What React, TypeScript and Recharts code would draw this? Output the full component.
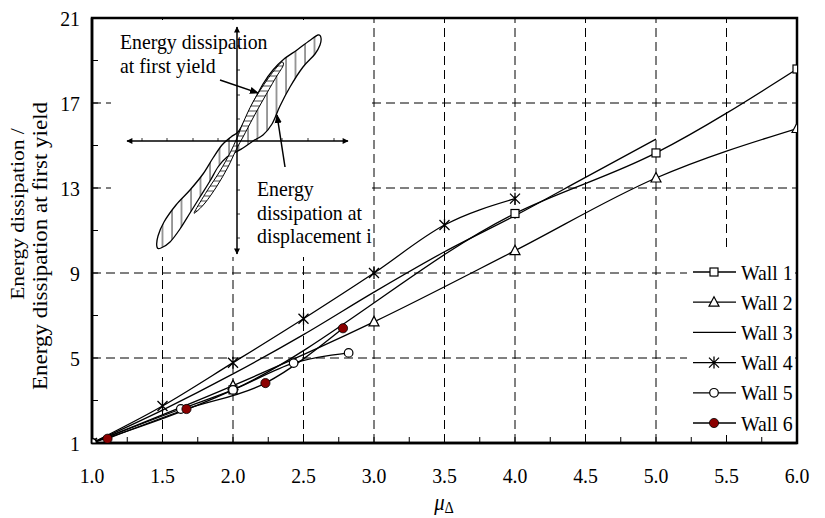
import React from 'react';
import { LineChart, Line, XAxis, YAxis, ReferenceLine, ReferenceArea, Legend } from 'recharts';

// ---------------- data ----------------
const wall1X = [1, 2, 4, 5, 6];
const wall1Y = [1, 3.5, 11.8, 14.65, 18.6];
const wall2X = [1, 2, 3, 4, 5, 6];
const wall2Y = [1, 3.7, 6.7, 10.05, 13.47, 15.8];
const wall3X = [1, 1.5, 2, 2.5, 3, 3.5, 4, 4.5, 5];
const wall3Y = [1, 2.55, 4.25, 6.1, 8.1, 10.0, 11.7, 13.5, 15.3];
const wall4X = [1, 1.5, 2, 2.5, 3, 3.5, 4];
const wall4Y = [1, 2.74, 4.78, 6.85, 9.0, 11.26, 12.5];
const wall5X = [1, 1.63, 2, 2.43, 2.82];
const wall5Y = [1, 2.6, 3.5, 4.76, 5.24];
const wall6X = [1.11, 1.67, 2.23, 2.78];
const wall6Y = [1.2, 2.6, 3.82, 6.4];

const seriesNames = ['Wall 1', 'Wall 2', 'Wall 3', 'Wall 4', 'Wall 5', 'Wall 6'];

const xTicks = [1, 1.25, 1.5, 1.75, 2, 2.25, 2.5, 2.75, 3, 3.25, 3.5, 3.75, 4, 4.25, 4.5, 4.75, 5, 5.25, 5.5, 5.75, 6];
const xLabels = [1, 1.5, 2, 2.5, 3, 3.5, 4, 4.5, 5, 5.5, 6];
const yTicks = [1, 3, 5, 7, 9, 11, 13, 15, 17, 19, 21];
const yLabels = [1, 5, 9, 13, 17, 21];
const gridX = [1.5, 2, 2.5, 3, 3.5, 4, 4.5, 5, 5.5];
const gridY = [5, 9, 13, 17];

const yTitle1 = 'Energy dissipation /';
const yTitle2 = 'Energy dissipation at first yield';
const insetText1 = ['Energy dissipation', 'at first yield'];
const insetText2 = ['Energy', 'dissipation at', 'displacement i'];

const zip = (xs: number[], ys: number[]) => xs.map((x, i) => ({ x, y: ys[i] }));
const wall1 = zip(wall1X, wall1Y);
const wall2 = zip(wall2X, wall2Y);
const wall3 = zip(wall3X, wall3Y);
const wall4 = zip(wall4X, wall4Y);
const wall5 = zip(wall5X, wall5Y);
const wall6 = zip(wall6X, wall6Y);

// ---------------- styles ----------------
const FONT = 'Liberation Serif, DejaVu Serif, serif';
const FS = 22;
const SX = 0.9;
const RED = '#8B0000';
const tStyle: React.CSSProperties = { fontFamily: FONT, fontSize: FS };

// horizontally condensed text (reference glyphs are tall and narrow)
const T = ({ x, y, anchor, children }: { x: number; y: number; anchor?: string; children: any }) => (
  <text transform={`translate(${x},${y}) scale(${SX},1)`} textAnchor={anchor || 'start'} style={tStyle} fill="#000">
    {children}
  </text>
);

// ---------------- markers ----------------
const squareShape = (cx: number, cy: number, k: any) => (
  <rect key={k} x={cx - 4} y={cy - 4} width={8} height={8} fill="#fff" stroke="#000" strokeWidth={1.2} />
);
const triShape = (cx: number, cy: number, k: any) => (
  <path key={k} d={`M${cx},${cy - 5.5} L${cx + 5},${cy + 4} L${cx - 5},${cy + 4} Z`} fill="#fff" stroke="#000" strokeWidth={1.2} />
);
const starShape = (cx: number, cy: number, k: any) => (
  <path key={k} d={`M${cx - 5},${cy - 5} L${cx + 5},${cy + 5} M${cx - 5},${cy + 5} L${cx + 5},${cy - 5} M${cx},${cy - 6} L${cx},${cy + 6}`} stroke="#000" strokeWidth={1.3} fill="none" />
);
const openCircle = (cx: number, cy: number, k: any) => (
  <circle key={k} cx={cx} cy={cy} r={4.3} fill="#fff" stroke="#000" strokeWidth={1.2} />
);
const redCircle = (cx: number, cy: number, k: any) => (
  <circle key={k} cx={cx} cy={cy} r={4.6} fill={RED} stroke="#000" strokeWidth={0.8} />
);

const dotOf = (shape: (cx: number, cy: number, k: any) => any, name: string) => (p: any) => {
  if (p.cx == null || p.cy == null) return <g key={`${name}-${p.index}`} />;
  return shape(p.cx, p.cy, `${name}-${p.index}`);
};

const legendShapes = [squareShape, triShape, null, starShape, openCircle, redCircle];

// ---------------- axes ticks ----------------
const XTick = (props: any) => {
  const { x, y, payload } = props;
  const v = payload.value;
  const show = xLabels.includes(v);
  return (
    <g>
      <line x1={x} y1={y} x2={x} y2={y - 6} stroke="#000" strokeWidth={1} />
      {show && (
        <T x={x} y={y + 40} anchor="middle">
          {v.toFixed(1)}
        </T>
      )}
    </g>
  );
};

const YTick = (props: any) => {
  const { x, y, payload } = props;
  const v = payload.value;
  const show = yLabels.includes(v);
  return (
    <g>
      <line x1={x} y1={y} x2={x + 6} y2={y} stroke="#000" strokeWidth={1} />
      {show && (
        <T x={x - 12} y={y + 7.5} anchor="end">
          {v}
        </T>
      )}
    </g>
  );
};

// ---------------- legend ----------------
const renderLegend = () => (
  <svg width={108} height={183} style={{ display: 'block' }}>
    <rect x={0} y={0} width={108} height={183} fill="#fff" />
    {seriesNames.map((n, i) => {
      const cy = 20 + i * 30.2;
      const sh = legendShapes[i];
      return (
        <g key={n}>
          <line x1={6} y1={cy} x2={49} y2={cy} stroke="#000" strokeWidth={1.3} />
          {sh && sh(27, cy, `lg-${i}`)}
          <T x={54} y={cy + 7.5}>
            {n}
          </T>
        </g>
      );
    })}
  </svg>
);

// ---------------- inset illustration ----------------
function smoothPath(pts: number[][], closed: boolean) {
  const n = pts.length;
  const get = (i: number) => (closed ? pts[(i + n) % n] : pts[Math.max(0, Math.min(n - 1, i))]);
  let d = `M${pts[0][0]},${pts[0][1]}`;
  const segs = closed ? n : n - 1;
  for (let i = 0; i < segs; i++) {
    const p0 = get(i - 1), p1 = get(i), p2 = get(i + 1), p3 = get(i + 2);
    const c1x = p1[0] + (p2[0] - p0[0]) / 6, c1y = p1[1] + (p2[1] - p0[1]) / 6;
    const c2x = p2[0] - (p3[0] - p1[0]) / 6, c2y = p2[1] - (p3[1] - p1[1]) / 6;
    d += ` C${c1x.toFixed(1)},${c1y.toFixed(1)} ${c2x.toFixed(1)},${c2y.toFixed(1)} ${p2[0]},${p2[1]}`;
  }
  if (closed) d += ' Z';
  return d;
}

const outerLoop = [
  [157, 247], [158, 236], [164, 222], [176, 205], [190, 190], [203, 174], [213, 158], [222, 145], [231, 137], [238, 132],
  [244, 122], [253, 103], [263, 84], [273, 70], [284, 59], [297, 50], [309, 41], [318, 35],
  [321, 38], [320, 45], [315, 54], [303, 67], [290, 87], [280, 106], [272, 124], [263, 135], [253, 141], [243, 148],
  [236, 152], [227, 157], [218, 167], [210, 181], [200, 197], [190, 213], [180, 229], [170, 242], [161, 248],
];
const innerLoop = [
  [195, 211], [207, 191], [220, 171], [230, 153], [237, 138], [243, 123], [253, 102], [267, 80], [277, 67], [282, 62],
  [283, 66], [275, 79], [263, 100], [253, 118], [243, 137], [237, 148], [228, 167], [217, 186], [205, 203], [196, 212],
];
const hTicks = [142, 167, 193, 218, 257, 282, 308, 334];
const vTicks = [46, 70, 95, 119, 165, 190, 214, 238];

const Inset = () => (
  <svg width={825} height={518} style={{ position: 'absolute', left: 0, top: 0, pointerEvents: 'none' }}>
    <defs>
      <pattern id="vhatch" width={9.5} height={10} patternUnits="userSpaceOnUse">
        <line x1={1} y1={0} x2={1} y2={10} stroke="#000" strokeWidth={0.8} />
      </pattern>
      <pattern id="hhatch" width={10} height={5} patternUnits="userSpaceOnUse">
        <rect width={10} height={5} fill="#fff" />
        <line x1={0} y1={1} x2={10} y2={1} stroke="#000" strokeWidth={0.7} />
      </pattern>
      <marker id="ah" viewBox="0 0 10 10" refX={9} refY={5} markerWidth={9} markerHeight={9} orient="auto-start-reverse" markerUnits="userSpaceOnUse">
        <path d="M0,1 L10,5 L0,9 Z" fill="#000" />
      </marker>
      <marker id="ahs" viewBox="0 0 10 10" refX={9} refY={5} markerWidth={8} markerHeight={6} orient="auto-start-reverse" markerUnits="userSpaceOnUse">
        <path d="M0,0 L10,5 L0,10 Z" fill="#000" />
      </marker>
    </defs>
    <rect x={111} y={20} width={261} height={237} fill="#fff" />
    <path d={smoothPath(outerLoop, true)} fill="#fff" stroke="none" />
    <path d={smoothPath(outerLoop, true)} fill="url(#vhatch)" stroke="#000" strokeWidth={1.3} />
    <path d={smoothPath(innerLoop, true)} fill="url(#hhatch)" stroke="#000" strokeWidth={1} />
    <line x1={127} y1={141} x2={348} y2={141} stroke="#000" strokeWidth={1.5} markerStart="url(#ahs)" markerEnd="url(#ahs)" />
    <line x1={237} y1={27} x2={237} y2={254} stroke="#000" strokeWidth={1.5} markerStart="url(#ahs)" markerEnd="url(#ahs)" />
    {hTicks.map((t) => (
      <line key={`ht${t}`} x1={t} y1={138} x2={t} y2={141} stroke="#000" strokeWidth={0.8} />
    ))}
    {vTicks.map((t) => (
      <line key={`vt${t}`} x1={237} y1={t} x2={240} y2={t} stroke="#000" strokeWidth={0.8} />
    ))}
    <line x1={220} y1={80} x2={258} y2={93} stroke="#000" strokeWidth={1.5} markerEnd="url(#ah)" />
    <line x1={285} y1={167} x2={277} y2={115} stroke="#000" strokeWidth={1.5} markerEnd="url(#ah)" />
    {insetText1.map((t, i) => (
      <T key={t} x={120} y={49 + i * 24}>
        {t}
      </T>
    ))}
    {insetText2.map((t, i) => (
      <T key={t} x={257} y={196 + i * 23.5}>
        {t}
      </T>
    ))}
    {/* axis titles */}
    <text transform="translate(24,214) rotate(-90) scale(1,0.87)" textAnchor="middle" style={{ fontFamily: FONT, fontSize: 21.5 }} fill="#000">
      {yTitle1}
    </text>
    <text transform="translate(47,246) rotate(-90) scale(1,0.87)" textAnchor="middle" style={{ fontFamily: FONT, fontSize: 23 }} fill="#000">
      {yTitle2}
    </text>
    <text transform={`translate(444,510) scale(${SX},1)`} textAnchor="middle" style={{ fontFamily: FONT }} fill="#000">
      <tspan style={{ fontStyle: 'italic', fontSize: 23 }}>μ</tspan>
      <tspan style={{ fontSize: 16 }} dy={3}>Δ</tspan>
    </text>
  </svg>
);

// ---------------- chart ----------------
export default function App() {
  return (
    <div style={{ position: 'absolute', left: 0, top: 0, width: 825, height: 518, background: '#fff', fontFamily: FONT }}>
      <LineChart width={825} height={518} margin={{ top: 18, right: 28, bottom: 0, left: 0 }}>
        <XAxis
          type="number"
          dataKey="x"
          domain={[1, 6]}
          ticks={xTicks}
          interval={0}
          height={75}
          tickSize={0}
          tickMargin={0}
          axisLine={{ stroke: '#000', strokeWidth: 2.5 }}
          tick={(p: any) => <XTick {...p} />}
          allowDataOverflow
        />
        <YAxis
          type="number"
          dataKey="y"
          domain={[1, 21]}
          ticks={yTicks}
          interval={0}
          width={92}
          tickSize={0}
          tickMargin={0}
          axisLine={{ stroke: '#000', strokeWidth: 2.5 }}
          tick={(p: any) => <YTick {...p} />}
          allowDataOverflow
        />
        {gridX.map((v) => (
          <ReferenceLine key={`gx${v}`} x={v} stroke="#000" strokeWidth={1} strokeDasharray="9 5" />
        ))}
        {gridY.map((v) => (
          <ReferenceLine key={`gy${v}`} y={v} stroke="#000" strokeWidth={1} strokeDasharray="9 5" />
        ))}
        <Line data={wall3} dataKey="y" type="monotone" stroke="#000" strokeWidth={1.3} dot={false} activeDot={false} isAnimationActive={false} />
        <Line data={wall2} dataKey="y" type="monotone" stroke="#000" strokeWidth={1.3} dot={dotOf(triShape, 'w2')} activeDot={false} isAnimationActive={false} />
        <Line data={wall1} dataKey="y" type="monotone" stroke="#000" strokeWidth={1.3} dot={dotOf(squareShape, 'w1')} activeDot={false} isAnimationActive={false} />
        <Line data={wall4} dataKey="y" type="monotone" stroke="#000" strokeWidth={1.3} dot={dotOf(starShape, 'w4')} activeDot={false} isAnimationActive={false} />
        <Line data={wall5} dataKey="y" type="monotone" stroke="#000" strokeWidth={1.3} dot={dotOf(openCircle, 'w5')} activeDot={false} isAnimationActive={false} />
        <Line data={wall6} dataKey="y" type="monotone" stroke="#000" strokeWidth={1.3} dot={dotOf(redCircle, 'w6')} activeDot={false} isAnimationActive={false} />
        <ReferenceArea x1={1} x2={6} y1={1} y2={21} fill="none" fillOpacity={0} stroke="#000" strokeWidth={2.5} />
        <Legend
          content={renderLegend}
          layout="vertical"
          align="center"
          verticalAlign="middle"
          wrapperStyle={{ position: 'absolute', left: 687, top: 252, width: 108, height: 183, background: '#fff' }}
        />
      </LineChart>
      <Inset />
    </div>
  );
}
